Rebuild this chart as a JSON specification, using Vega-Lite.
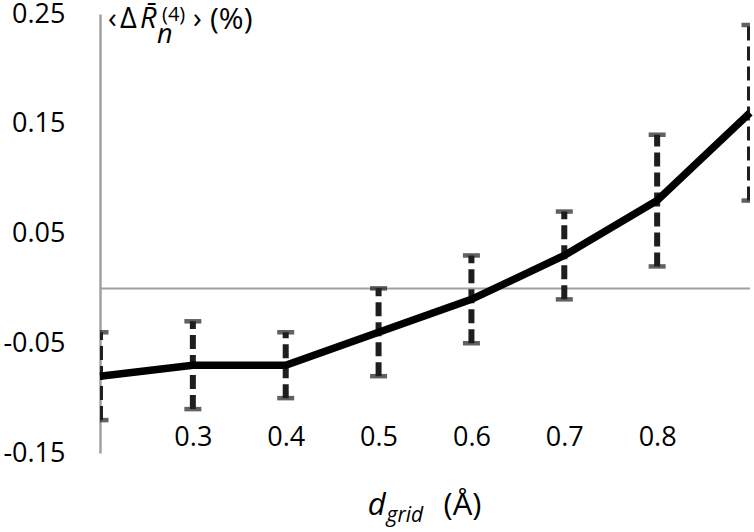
{
  "$schema": "https://vega.github.io/schema/vega-lite/v6.json",
  "autosize": "none",
  "width": 650,
  "height": 439,
  "padding": {"left": 100, "top": 14, "right": 4, "bottom": 79},
  "background": "white",
  "config": {"view": {"stroke": null}, "font": "Open Sans"},
  "data": {"values": [
    {"d": 0.2, "mean": -0.08, "lo": -0.12, "hi": -0.04},
    {"d": 0.3, "mean": -0.07, "lo": -0.11, "hi": -0.03},
    {"d": 0.4, "mean": -0.07, "lo": -0.10, "hi": -0.04},
    {"d": 0.5, "mean": -0.04, "lo": -0.08, "hi": 0.00},
    {"d": 0.6, "mean": -0.01, "lo": -0.05, "hi": 0.03},
    {"d": 0.7, "mean": 0.03, "lo": -0.01, "hi": 0.07},
    {"d": 0.8, "mean": 0.08, "lo": 0.02, "hi": 0.14},
    {"d": 0.9, "mean": 0.16, "lo": 0.08, "hi": 0.24}
  ]},
  "layer": [
    {
      "data": {"values": [{}]},
      "mark": {"type": "rule", "color": "#a0a0a0", "strokeWidth": 2},
      "encoding": {"y": {"datum": 0, "type": "quantitative"}}
    },
    {
      "mark": {"type": "rule", "color": "#1e1e1e", "strokeWidth": 6, "strokeDash": [14, 6], "clip": true},
      "encoding": {
        "x": {"field": "d", "type": "quantitative",
              "scale": {"domain": [0.2, 0.9], "nice": false, "zero": false},
              "axis": {"values": [0.3, 0.4, 0.5, 0.6, 0.7, 0.8], "format": ".1f", "domain": false, "ticks": false, "grid": false,
                       "labelFontSize": 27, "labelColor": "black", "labelFont": "Open Sans", "labelBaseline": "middle", "labelPadding": -16, "title": null}},
        "y": {"field": "lo", "type": "quantitative",
              "scale": {"domain": [-0.15, 0.25], "nice": false, "zero": false},
              "axis": {"values": [-0.15, -0.05, 0.05, 0.15, 0.25],
                       "labelExpr": "replace(format(datum.value, '.2f'), '\u2212', '-')",
                       "domain": true, "domainColor": "#a0a0a0", "domainWidth": 2.5,
                       "ticks": false, "grid": false, "labelPadding": 35,
                       "labelFontSize": 27, "labelColor": "black", "labelFont": "Open Sans",
                       "title": null}},
        "y2": {"field": "hi"}
      }
    },
    {
      "mark": {"type": "tick", "orient": "horizontal", "color": "#1e1e1e", "size": 17, "thickness": 4.5, "clip": true},
      "encoding": {
        "x": {"field": "d", "type": "quantitative"},
        "y": {"field": "lo", "type": "quantitative"}
      }
    },
    {
      "mark": {"type": "tick", "orient": "horizontal", "color": "#1e1e1e", "size": 17, "thickness": 4.5, "clip": true},
      "encoding": {
        "x": {"field": "d", "type": "quantitative"},
        "y": {"field": "hi", "type": "quantitative"}
      }
    },
    {
      "mark": {"type": "line", "color": "black", "strokeWidth": 7.5},
      "encoding": {
        "x": {"field": "d", "type": "quantitative"},
        "y": {"field": "mean", "type": "quantitative"}
      }
    },
    {
      "data": {"values": [{}]},
      "mark": {"type": "text", "text": "\u2039", "font": "Open Sans", "fontSize": 29, "align": "left", "baseline": "alphabetic", "dx": 8, "dy": 14, "color": "black"},
      "encoding": {"x": {"datum": 0.2, "type": "quantitative"}, "y": {"datum": 0.25, "type": "quantitative"}}
    },
    {
      "data": {"values": [{}]},
      "mark": {"type": "text", "text": "\u0394", "font": "Open Sans", "fontSize": 29, "align": "left", "baseline": "alphabetic", "dx": 20, "dy": 14, "color": "black"},
      "encoding": {"x": {"datum": 0.2, "type": "quantitative"}, "y": {"datum": 0.25, "type": "quantitative"}}
    },
    {
      "data": {"values": [{}]},
      "mark": {"type": "text", "text": "R\u0304", "font": "Open Sans", "fontStyle": "italic", "fontSize": 29, "align": "left", "baseline": "alphabetic", "dx": 40, "dy": 14, "color": "black"},
      "encoding": {"x": {"datum": 0.2, "type": "quantitative"}, "y": {"datum": 0.25, "type": "quantitative"}}
    },
    {
      "data": {"values": [{}]},
      "mark": {"type": "text", "text": "(4)", "font": "Open Sans", "fontSize": 20, "align": "left", "baseline": "alphabetic", "dx": 62, "dy": 7, "color": "black"},
      "encoding": {"x": {"datum": 0.2, "type": "quantitative"}, "y": {"datum": 0.25, "type": "quantitative"}}
    },
    {
      "data": {"values": [{}]},
      "mark": {"type": "text", "text": "n", "font": "Open Sans", "fontStyle": "italic", "fontSize": 27, "align": "left", "baseline": "alphabetic", "dx": 57, "dy": 29, "color": "black"},
      "encoding": {"x": {"datum": 0.2, "type": "quantitative"}, "y": {"datum": 0.25, "type": "quantitative"}}
    },
    {
      "data": {"values": [{}]},
      "mark": {"type": "text", "text": "\u203a", "font": "Open Sans", "fontSize": 29, "align": "left", "baseline": "alphabetic", "dx": 93, "dy": 14, "color": "black"},
      "encoding": {"x": {"datum": 0.2, "type": "quantitative"}, "y": {"datum": 0.25, "type": "quantitative"}}
    },
    {
      "data": {"values": [{}]},
      "mark": {"type": "text", "text": "(%)", "font": "Open Sans", "fontSize": 30, "align": "left", "baseline": "alphabetic", "dx": 110, "dy": 15, "color": "black"},
      "encoding": {"x": {"datum": 0.2, "type": "quantitative"}, "y": {"datum": 0.25, "type": "quantitative"}}
    },
    {
      "data": {"values": [{}]},
      "mark": {"type": "text", "text": "d", "font": "Open Sans", "fontStyle": "italic", "fontSize": 31, "align": "right", "baseline": "alphabetic", "dx": 7, "dy": 62, "color": "black"},
      "encoding": {"x": {"datum": 0.5, "type": "quantitative"}, "y": {"datum": -0.15, "type": "quantitative"}}
    },
    {
      "data": {"values": [{}]},
      "mark": {"type": "text", "text": "grid", "font": "Open Sans", "fontStyle": "italic", "fontSize": 21, "align": "left", "baseline": "alphabetic", "dx": 8, "dy": 69, "color": "black"},
      "encoding": {"x": {"datum": 0.5, "type": "quantitative"}, "y": {"datum": -0.15, "type": "quantitative"}}
    },
    {
      "data": {"values": [{}]},
      "mark": {"type": "text", "text": "(\u00c5)", "font": "Open Sans", "fontSize": 31, "align": "left", "baseline": "alphabetic", "dx": 65, "dy": 62, "color": "black"},
      "encoding": {"x": {"datum": 0.5, "type": "quantitative"}, "y": {"datum": -0.15, "type": "quantitative"}}
    }
  ]
}
